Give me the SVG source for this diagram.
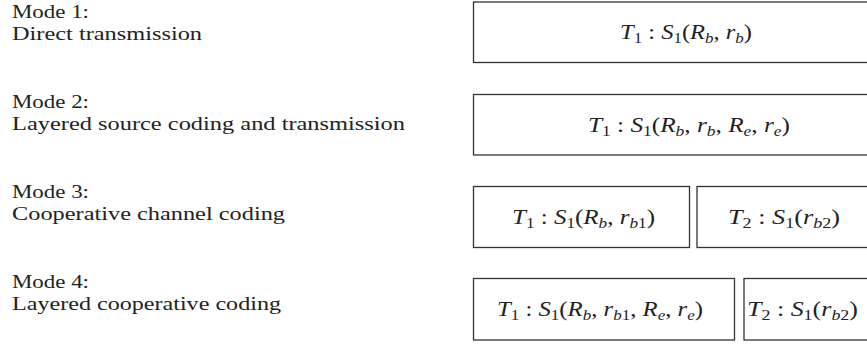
<svg xmlns="http://www.w3.org/2000/svg" width="867" height="344" viewBox="0 0 867 344">
<style>
.lbl{font-family:"Liberation Serif","Times New Roman",serif;font-size:19.5px;fill:#222}
.box rect{fill:#fff;stroke:#333;stroke-width:1.3}
.m{font-family:"Liberation Serif","Times New Roman",serif;font-size:21px;fill:#222}
.i{font-style:italic}
.s{font-size:14.5px}
</style>
<rect width="867" height="344" fill="#fff"/>
<g id="labels">
<g id="mode1"><text class="lbl" x="12" y="18" textLength="77" lengthAdjust="spacingAndGlyphs">Mode 1:</text><text class="lbl" x="12" y="39.5" textLength="190" lengthAdjust="spacingAndGlyphs">Direct transmission</text></g>
<g id="mode2"><text class="lbl" x="12" y="108" textLength="77" lengthAdjust="spacingAndGlyphs">Mode 2:</text><text class="lbl" x="12" y="129.5" textLength="393" lengthAdjust="spacingAndGlyphs">Layered source coding and transmission</text></g>
<g id="mode3"><text class="lbl" x="12" y="198" textLength="77" lengthAdjust="spacingAndGlyphs">Mode 3:</text><text class="lbl" x="12" y="219.5" textLength="273" lengthAdjust="spacingAndGlyphs">Cooperative channel coding</text></g>
<g id="mode4"><text class="lbl" x="12" y="288" textLength="77" lengthAdjust="spacingAndGlyphs">Mode 4:</text><text class="lbl" x="12" y="309.5" textLength="269" lengthAdjust="spacingAndGlyphs">Layered cooperative coding</text></g>
</g>
<g id="box1" class="box"><rect x="473.5" y="2" width="430" height="60.5"/>
<text class="m" x="620" y="39" textLength="132" lengthAdjust="spacingAndGlyphs"><tspan class="i">T</tspan><tspan class="s" dy="4">1</tspan><tspan dy="-4"> : </tspan><tspan class="i">S</tspan><tspan class="s" dy="4">1</tspan><tspan dy="-4">(</tspan><tspan class="i">R</tspan><tspan class="s i" dy="4">b</tspan><tspan dy="-4">, </tspan><tspan class="i">r</tspan><tspan class="s i" dy="4">b</tspan><tspan dy="-4">)</tspan></text></g>
<g id="box2" class="box"><rect x="473.5" y="94.5" width="430" height="60.5"/>
<text class="m" x="588" y="131.5" textLength="202" lengthAdjust="spacingAndGlyphs"><tspan class="i">T</tspan><tspan class="s" dy="4">1</tspan><tspan dy="-4"> : </tspan><tspan class="i">S</tspan><tspan class="s" dy="4">1</tspan><tspan dy="-4">(</tspan><tspan class="i">R</tspan><tspan class="s i" dy="4">b</tspan><tspan dy="-4">, </tspan><tspan class="i">r</tspan><tspan class="s i" dy="4">b</tspan><tspan dy="-4">, </tspan><tspan class="i">R</tspan><tspan class="s i" dy="4">e</tspan><tspan dy="-4">, </tspan><tspan class="i">r</tspan><tspan class="s i" dy="4">e</tspan><tspan dy="-4">)</tspan></text></g>
<g id="box3a" class="box"><rect x="473.5" y="186.5" width="216" height="61"/>
<text class="m" x="512" y="223.5" textLength="143" lengthAdjust="spacingAndGlyphs"><tspan class="i">T</tspan><tspan class="s" dy="4">1</tspan><tspan dy="-4"> : </tspan><tspan class="i">S</tspan><tspan class="s" dy="4">1</tspan><tspan dy="-4">(</tspan><tspan class="i">R</tspan><tspan class="s i" dy="4">b</tspan><tspan dy="-4">, </tspan><tspan class="i">r</tspan><tspan class="s" dy="4"><tspan class="i">b</tspan>1</tspan><tspan dy="-4">)</tspan></text></g>
<g id="box3b" class="box"><rect x="697" y="186.5" width="190" height="61"/>
<text class="m" x="728" y="223.5" textLength="112" lengthAdjust="spacingAndGlyphs"><tspan class="i">T</tspan><tspan class="s" dy="4">2</tspan><tspan dy="-4"> : </tspan><tspan class="i">S</tspan><tspan class="s" dy="4">1</tspan><tspan dy="-4">(</tspan><tspan class="i">r</tspan><tspan class="s" dy="4"><tspan class="i">b</tspan>2</tspan><tspan dy="-4">)</tspan></text></g>
<g id="box4a" class="box"><rect x="473.5" y="278.5" width="261" height="61.5"/>
<text class="m" x="497" y="316" textLength="206" lengthAdjust="spacingAndGlyphs"><tspan class="i">T</tspan><tspan class="s" dy="4">1</tspan><tspan dy="-4"> : </tspan><tspan class="i">S</tspan><tspan class="s" dy="4">1</tspan><tspan dy="-4">(</tspan><tspan class="i">R</tspan><tspan class="s i" dy="4">b</tspan><tspan dy="-4">, </tspan><tspan class="i">r</tspan><tspan class="s" dy="4"><tspan class="i">b</tspan>1</tspan><tspan dy="-4">, </tspan><tspan class="i">R</tspan><tspan class="s i" dy="4">e</tspan><tspan dy="-4">, </tspan><tspan class="i">r</tspan><tspan class="s i" dy="4">e</tspan><tspan dy="-4">)</tspan></text></g>
<g id="box4b" class="box"><rect x="744" y="278.5" width="140" height="61.5"/>
<text class="m" x="747" y="316" textLength="111" lengthAdjust="spacingAndGlyphs"><tspan class="i">T</tspan><tspan class="s" dy="4">2</tspan><tspan dy="-4"> : </tspan><tspan class="i">S</tspan><tspan class="s" dy="4">1</tspan><tspan dy="-4">(</tspan><tspan class="i">r</tspan><tspan class="s" dy="4"><tspan class="i">b</tspan>2</tspan><tspan dy="-4">)</tspan></text></g>
<g id="connectors"/>
</svg>
